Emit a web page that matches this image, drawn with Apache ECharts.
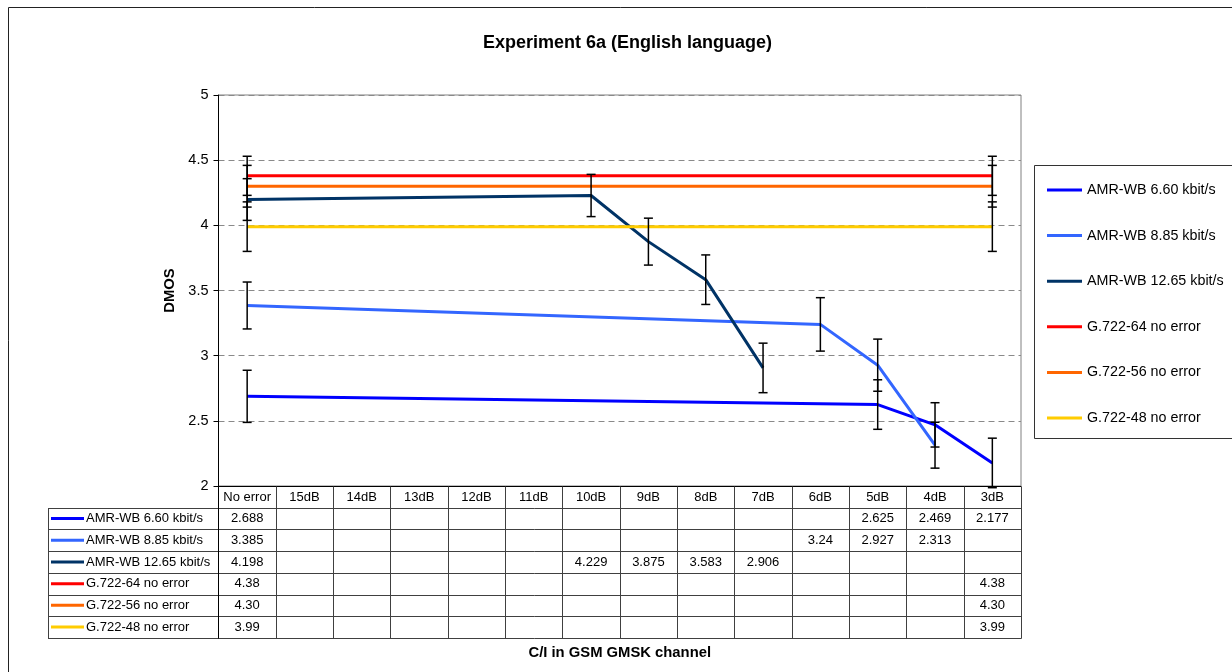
<!DOCTYPE html>
<html><head><meta charset="utf-8">
<script src="https://cdn.jsdelivr.net/npm/echarts@6/dist/echarts.min.js"></script>
<style>html,body{margin:0;padding:0;background:#fff}#c{width:1232px;height:672px}</style>
</head><body><div id="c"></div>
<script>
// ---------- data ----------
const categories = ['No error','15dB','14dB','13dB','12dB','11dB','10dB','9dB','8dB','7dB','6dB','5dB','4dB','3dB'];
const seriesNames = ['AMR-WB 6.60 kbit/s','AMR-WB 8.85 kbit/s','AMR-WB 12.65 kbit/s','G.722-64 no error','G.722-56 no error','G.722-48 no error'];
const amr660  = [2.688,null,null,null,null,null,null,null,null,null,null,2.625,2.469,2.177];
const amr885  = [3.385,null,null,null,null,null,null,null,null,null,3.24,2.927,2.313,null];
const amr1265 = [4.198,null,null,null,null,null,4.229,3.875,3.583,2.906,null,null,null,null];
const g722_64 = [4.38,null,null,null,null,null,null,null,null,null,null,null,null,4.38];
const g722_56 = [4.30,null,null,null,null,null,null,null,null,null,null,null,null,4.30];
const g722_48 = [3.99,null,null,null,null,null,null,null,null,null,null,null,null,3.99];
// error bar half-widths
const err660  = [0.20,null,null,null,null,null,null,null,null,null,null,0.19,0.17,0.19];
const err885  = [0.18,null,null,null,null,null,null,null,null,null,0.205,0.20,0.176,null];
const err1265 = [0.16,null,null,null,null,null,0.162,0.18,0.19,0.19,null,null,null,null];
const errG64  = [0.15,null,null,null,null,null,null,null,null,null,null,null,null,0.15];
const errG56  = [0.16,null,null,null,null,null,null,null,null,null,null,null,null,0.16];
const errG48  = [0.19,null,null,null,null,null,null,null,null,null,null,null,null,0.19];
const yTicks = [2, 2.5, 3, 3.5, 4, 4.5, 5];
const tableDecimals = [null, null, null, 2, 2, 2];

const values = [amr660, amr885, amr1265, g722_64, g722_56, g722_48];
const errors = [err660, err885, err1265, errG64, errG56, errG48];
const colors = ['#0000FF','#3366FF','#003366','#FF0000','#FF6600','#FFCC00'];
const FONT = 'Liberation Sans, Arial, sans-serif';

const errData = [];
values.forEach((arr, s) => arr.forEach((v, i) => {
  const e = errors[s][i];
  if (v != null && e != null) errData.push([i, v - e, v + e]);
}));

const chart = echarts.init(document.getElementById('c'), null, {renderer: 'canvas'});

const lineSeries = seriesNames.map((name, s) => ({
  name, type: 'line', data: values[s], connectNulls: true,
  symbol: 'none', lineStyle: {color: colors[s], width: 3}, itemStyle: {color: colors[s]},
  z: 2 + s, animation: false
}));

chart.setOption({
  animation: false,
  backgroundColor: '#fff',
  textStyle: {fontFamily: FONT},
  title: {
    text: 'Experiment 6a (English language)', left: 478, top: 29,
    textStyle: {fontFamily: FONT, fontSize: 18, fontWeight: 'bold', color: '#000'}
  },
  legend: {
    data: seriesNames, orient: 'vertical', left: 1042, top: 177,
    icon: 'rect', itemWidth: 35, itemHeight: 3, itemGap: 29.6,
    textStyle: {fontFamily: FONT, fontSize: 14.3, color: '#000', lineHeight: 16}
  },
  grid: {left: 218.5, right: 211, top: 95, bottom: 186, show: true, borderColor: '#808080', borderWidth: 1},
  xAxis: {
    type: 'category', data: categories, boundaryGap: true,
    axisLine: {lineStyle: {color: '#000', width: 1}},
    axisTick: {show: false},
    axisLabel: {fontFamily: FONT, fontSize: 13, color: '#000', margin: 5, interval: 0},
    name: 'C/I in GSM GMSK channel', nameLocation: 'middle', nameGap: 159,
    nameTextStyle: {fontFamily: FONT, fontSize: 14.8, fontWeight: 'bold', color: '#000'}
  },
  yAxis: {
    type: 'value', min: 2, max: 5, interval: 0.5,
    axisLine: {show: true, lineStyle: {color: '#000', width: 1}},
    axisTick: {show: true, length: 5, lineStyle: {color: '#000'}},
    axisLabel: {fontFamily: FONT, fontSize: 14.5, color: '#000', margin: 10,
      formatter: v => String(v)},
    splitLine: {show: true, lineStyle: {color: '#8a8a8a', type: [6, 4], width: 1}},
    name: 'DMOS', nameLocation: 'middle', nameGap: 40,
    nameTextStyle: {fontFamily: FONT, fontSize: 14.8, fontWeight: 'bold', color: '#000'}
  },
  series: lineSeries.concat([{
    name: 'errorbars', type: 'custom', data: errData, z: 20, animation: false,
    renderItem: (params, api) => {
      const lo = api.coord([api.value(0), api.value(1)]);
      const hi = api.coord([api.value(0), api.value(2)]);
      const hw = 4.5;
      const st = {stroke: '#000', lineWidth: 1.5};
      return {type: 'group', children: [
        {type: 'line', shape: {x1: lo[0], y1: lo[1], x2: hi[0], y2: hi[1]}, style: st},
        {type: 'line', shape: {x1: lo[0]-hw, y1: lo[1], x2: lo[0]+hw, y2: lo[1]}, style: st},
        {type: 'line', shape: {x1: hi[0]-hw, y1: hi[1], x2: hi[0]+hw, y2: hi[1]}, style: st}
      ]};
    }
  }])
});

// ---------- data table under the plot, positioned from the axis scales ----------
const cx0 = chart.convertToPixel({xAxisIndex: 0}, 0);
const cx1 = chart.convertToPixel({xAxisIndex: 0}, 1);
const band = cx1 - cx0;
const gridL = cx0 - band / 2;
const gridR = gridL + band * categories.length;
const tableTop = chart.convertToPixel({yAxisIndex: 0}, 2);
const rowH = 21.7;
const labelL = 48;
const nRows = seriesNames.length + 1;
const tableBottom = tableTop + rowH * nRows;
const px = v => Math.round(v) + 0.5;
const lineCol = '#404040';
const g = [];

// outer chart frame
g.push({type: 'rect', shape: {x: 8.5, y: 7.5, width: 1400, height: 900}, style: {fill: null, stroke: '#222', lineWidth: 1}, silent: true, z: 0});
// legend box
g.push({type: 'rect', shape: {x: 1034.5, y: 165.5, width: 300, height: 273}, style: {fill: '#fff', stroke: '#333', lineWidth: 1}, silent: true, z: 0});

// horizontal table lines
for (let r = 1; r <= nRows; r++) {
  const y = px(tableTop + rowH * r);
  g.push({type: 'line', shape: {x1: labelL, y1: y, x2: px(gridR), y2: y}, style: {stroke: lineCol, lineWidth: 1}, z: 5});
}
// left border of label column
g.push({type: 'line', shape: {x1: px(labelL), y1: px(tableTop + rowH), x2: px(labelL), y2: px(tableBottom)}, style: {stroke: lineCol, lineWidth: 1}, z: 5});
// vertical column lines
for (let i = 0; i <= categories.length; i++) {
  const x = px(gridL + band * i);
  g.push({type: 'line', shape: {x1: x, y1: px(tableTop), x2: x, y2: px(tableBottom)}, style: {stroke: i === 0 ? '#000' : lineCol, lineWidth: 1}, z: 5});
}
// row labels with keys
seriesNames.forEach((name, s) => {
  const yc = tableTop + rowH * (s + 1) + rowH / 2;
  g.push({type: 'line', shape: {x1: 51, y1: yc, x2: 84, y2: yc}, style: {stroke: colors[s], lineWidth: 3}, z: 6});
  g.push({type: 'text', x: 86, y: yc, style: {text: name, font: '13px ' + FONT, fill: '#000', textAlign: 'left', textVerticalAlign: 'middle'}, z: 6});
  values[s].forEach((v, i) => {
    if (v == null) return;
    const txt = tableDecimals[s] != null ? v.toFixed(tableDecimals[s]) : String(v);
    g.push({type: 'text', x: chart.convertToPixel({xAxisIndex: 0}, i), y: yc,
      style: {text: txt, font: '13px ' + FONT, fill: '#000', textAlign: 'center', textVerticalAlign: 'middle'}, z: 6});
  });
});

chart.setOption({graphic: g});
</script>
</body></html>
